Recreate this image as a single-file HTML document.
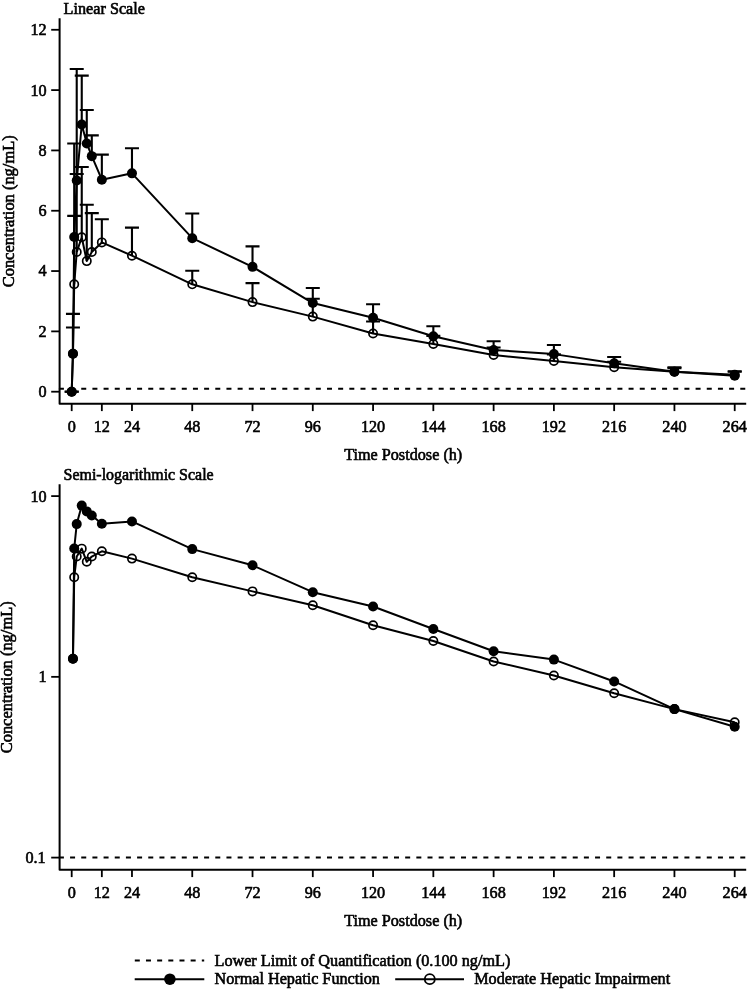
<!DOCTYPE html><html><head><meta charset="utf-8"><style>html,body{margin:0;padding:0;background:#fff;}svg{display:block;filter:grayscale(1);}text{font-family:"Liberation Serif",serif;fill:#000;stroke:#000;stroke-width:0.6px;}</style></head><body>
<svg width="749" height="991" viewBox="0 0 749 991">
<rect width="749" height="991" fill="#fff"/>
<text x="63.60" y="14.40" font-size="16.2">Linear Scale</text>
<path d="M59.60,18.30 L59.60,403.70 L746.20,403.70" fill="none" stroke="#000" stroke-width="2.0" stroke-linejoin="round"/>
<line x1="51.20" y1="391.70" x2="59.60" y2="391.70" stroke="#000" stroke-width="1.8"/>
<text x="46.70" y="397.10" font-size="16.2" text-anchor="end">0</text>
<line x1="51.20" y1="331.38" x2="59.60" y2="331.38" stroke="#000" stroke-width="1.8"/>
<text x="46.70" y="336.78" font-size="16.2" text-anchor="end">2</text>
<line x1="51.20" y1="271.06" x2="59.60" y2="271.06" stroke="#000" stroke-width="1.8"/>
<text x="46.70" y="276.46" font-size="16.2" text-anchor="end">4</text>
<line x1="51.20" y1="210.74" x2="59.60" y2="210.74" stroke="#000" stroke-width="1.8"/>
<text x="46.70" y="216.14" font-size="16.2" text-anchor="end">6</text>
<line x1="51.20" y1="150.42" x2="59.60" y2="150.42" stroke="#000" stroke-width="1.8"/>
<text x="46.70" y="155.82" font-size="16.2" text-anchor="end">8</text>
<line x1="51.20" y1="90.10" x2="59.60" y2="90.10" stroke="#000" stroke-width="1.8"/>
<text x="46.70" y="95.50" font-size="16.2" text-anchor="end">10</text>
<line x1="51.20" y1="29.78" x2="59.60" y2="29.78" stroke="#000" stroke-width="1.8"/>
<text x="46.70" y="35.18" font-size="16.2" text-anchor="end">12</text>
<line x1="71.70" y1="403.70" x2="71.70" y2="411.10" stroke="#000" stroke-width="1.8"/>
<text x="71.70" y="432.00" font-size="16.2" text-anchor="middle">0</text>
<line x1="101.84" y1="403.70" x2="101.84" y2="411.10" stroke="#000" stroke-width="1.8"/>
<text x="101.84" y="432.00" font-size="16.2" text-anchor="middle">12</text>
<line x1="131.97" y1="403.70" x2="131.97" y2="411.10" stroke="#000" stroke-width="1.8"/>
<text x="131.97" y="432.00" font-size="16.2" text-anchor="middle">24</text>
<line x1="192.25" y1="403.70" x2="192.25" y2="411.10" stroke="#000" stroke-width="1.8"/>
<text x="192.25" y="432.00" font-size="16.2" text-anchor="middle">48</text>
<line x1="252.52" y1="403.70" x2="252.52" y2="411.10" stroke="#000" stroke-width="1.8"/>
<text x="252.52" y="432.00" font-size="16.2" text-anchor="middle">72</text>
<line x1="312.79" y1="403.70" x2="312.79" y2="411.10" stroke="#000" stroke-width="1.8"/>
<text x="312.79" y="432.00" font-size="16.2" text-anchor="middle">96</text>
<line x1="373.07" y1="403.70" x2="373.07" y2="411.10" stroke="#000" stroke-width="1.8"/>
<text x="373.07" y="432.00" font-size="16.2" text-anchor="middle">120</text>
<line x1="433.34" y1="403.70" x2="433.34" y2="411.10" stroke="#000" stroke-width="1.8"/>
<text x="433.34" y="432.00" font-size="16.2" text-anchor="middle">144</text>
<line x1="493.62" y1="403.70" x2="493.62" y2="411.10" stroke="#000" stroke-width="1.8"/>
<text x="493.62" y="432.00" font-size="16.2" text-anchor="middle">168</text>
<line x1="553.89" y1="403.70" x2="553.89" y2="411.10" stroke="#000" stroke-width="1.8"/>
<text x="553.89" y="432.00" font-size="16.2" text-anchor="middle">192</text>
<line x1="614.16" y1="403.70" x2="614.16" y2="411.10" stroke="#000" stroke-width="1.8"/>
<text x="614.16" y="432.00" font-size="16.2" text-anchor="middle">216</text>
<line x1="674.44" y1="403.70" x2="674.44" y2="411.10" stroke="#000" stroke-width="1.8"/>
<text x="674.44" y="432.00" font-size="16.2" text-anchor="middle">240</text>
<line x1="734.71" y1="403.70" x2="734.71" y2="411.10" stroke="#000" stroke-width="1.8"/>
<text x="734.71" y="432.00" font-size="16.2" text-anchor="middle">264</text>
<text x="403.20" y="459.70" font-size="16.2" text-anchor="middle">Time Postdose (h)</text>
<text x="0" y="0" font-size="16.45" text-anchor="middle" transform="translate(14.0,211.30) rotate(-90)">Concentration (ng/mL)</text>
<line x1="58.9" y1="388.68" x2="746.20" y2="388.68" stroke="#000" stroke-width="2.0" stroke-dasharray="5.0 6.17"/>
<path d="M71.70,391.70 L71.70,391.70 M64.70,391.70 L78.70,391.70" stroke="#000" stroke-width="2.1" fill="none"/>
<path d="M72.96,353.70 L72.96,327.46 M65.96,327.46 L79.96,327.46" stroke="#000" stroke-width="2.1" fill="none"/>
<path d="M74.21,284.33 L74.21,215.87 M67.21,215.87 L81.21,215.87" stroke="#000" stroke-width="2.1" fill="none"/>
<path d="M76.72,252.06 L76.72,173.94 M69.72,173.94 L83.72,173.94" stroke="#000" stroke-width="2.1" fill="none"/>
<path d="M81.75,237.28 L81.75,167.01 M74.75,167.01 L88.75,167.01" stroke="#000" stroke-width="2.1" fill="none"/>
<path d="M86.77,261.11 L86.77,204.71 M79.77,204.71 L93.77,204.71" stroke="#000" stroke-width="2.1" fill="none"/>
<path d="M91.79,252.06 L91.79,213.15 M84.79,213.15 L98.79,213.15" stroke="#000" stroke-width="2.1" fill="none"/>
<path d="M101.84,242.41 L101.84,219.18 M94.84,219.18 L108.84,219.18" stroke="#000" stroke-width="2.1" fill="none"/>
<path d="M131.97,255.68 L131.97,227.63 M124.97,227.63 L138.97,227.63" stroke="#000" stroke-width="2.1" fill="none"/>
<path d="M192.25,284.33 L192.25,270.76 M185.25,270.76 L199.25,270.76" stroke="#000" stroke-width="2.1" fill="none"/>
<path d="M252.52,302.12 L252.52,283.12 M245.52,283.12 L259.52,283.12" stroke="#000" stroke-width="2.1" fill="none"/>
<path d="M312.79,316.60 L312.79,298.81 M305.79,298.81 L319.79,298.81" stroke="#000" stroke-width="2.1" fill="none"/>
<path d="M373.07,333.49 L373.07,321.43 M366.07,321.43 L380.07,321.43" stroke="#000" stroke-width="2.1" fill="none"/>
<path d="M433.34,344.05 L433.34,335.90 M426.34,335.90 L440.34,335.90" stroke="#000" stroke-width="2.1" fill="none"/>
<path d="M493.62,355.03 L493.62,347.49 M486.62,347.49 L500.62,347.49" stroke="#000" stroke-width="2.1" fill="none"/>
<path d="M553.89,361.03 L553.89,354.39 M546.89,354.39 L560.89,354.39" stroke="#000" stroke-width="2.1" fill="none"/>
<path d="M614.16,367.21 L614.16,361.78 M607.16,361.78 L621.16,361.78" stroke="#000" stroke-width="2.1" fill="none"/>
<path d="M674.44,371.70 L674.44,368.08 M667.44,368.08 L681.44,368.08" stroke="#000" stroke-width="2.1" fill="none"/>
<path d="M734.71,374.78 L734.71,371.76 M727.71,371.76 L741.71,371.76" stroke="#000" stroke-width="2.1" fill="none"/>
<path d="M71.70,391.70 L72.96,353.70 L74.21,284.33 L76.72,252.06 L81.75,237.28 L86.77,261.11 L91.79,252.06 L101.84,242.41 L131.97,255.68 L192.25,284.33 L252.52,302.12 L312.79,316.60 L373.07,333.49 L433.34,344.05 L493.62,355.03 L553.89,361.03 L614.16,367.21 L674.44,371.70 L734.71,374.78" fill="none" stroke="#000" stroke-width="2.0" stroke-linejoin="round"/>
<circle cx="71.70" cy="391.70" r="4.15" fill="none" stroke="#000" stroke-width="1.7"/>
<circle cx="72.96" cy="353.70" r="4.15" fill="none" stroke="#000" stroke-width="1.7"/>
<circle cx="74.21" cy="284.33" r="4.15" fill="none" stroke="#000" stroke-width="1.7"/>
<circle cx="76.72" cy="252.06" r="4.15" fill="none" stroke="#000" stroke-width="1.7"/>
<circle cx="81.75" cy="237.28" r="4.15" fill="none" stroke="#000" stroke-width="1.7"/>
<circle cx="86.77" cy="261.11" r="4.15" fill="none" stroke="#000" stroke-width="1.7"/>
<circle cx="91.79" cy="252.06" r="4.15" fill="none" stroke="#000" stroke-width="1.7"/>
<circle cx="101.84" cy="242.41" r="4.15" fill="none" stroke="#000" stroke-width="1.7"/>
<circle cx="131.97" cy="255.68" r="4.15" fill="none" stroke="#000" stroke-width="1.7"/>
<circle cx="192.25" cy="284.33" r="4.15" fill="none" stroke="#000" stroke-width="1.7"/>
<circle cx="252.52" cy="302.12" r="4.15" fill="none" stroke="#000" stroke-width="1.7"/>
<circle cx="312.79" cy="316.60" r="4.15" fill="none" stroke="#000" stroke-width="1.7"/>
<circle cx="373.07" cy="333.49" r="4.15" fill="none" stroke="#000" stroke-width="1.7"/>
<circle cx="433.34" cy="344.05" r="4.15" fill="none" stroke="#000" stroke-width="1.7"/>
<circle cx="493.62" cy="355.03" r="4.15" fill="none" stroke="#000" stroke-width="1.7"/>
<circle cx="553.89" cy="361.03" r="4.15" fill="none" stroke="#000" stroke-width="1.7"/>
<circle cx="614.16" cy="367.21" r="4.15" fill="none" stroke="#000" stroke-width="1.7"/>
<circle cx="674.44" cy="371.70" r="4.15" fill="none" stroke="#000" stroke-width="1.7"/>
<circle cx="734.71" cy="374.78" r="4.15" fill="none" stroke="#000" stroke-width="1.7"/>
<path d="M71.70,391.70 L71.70,391.70 M64.70,391.70 L78.70,391.70" stroke="#000" stroke-width="2.1" fill="none"/>
<path d="M72.96,353.70 L72.96,313.89 M65.96,313.89 L79.96,313.89" stroke="#000" stroke-width="2.1" fill="none"/>
<path d="M74.21,236.98 L74.21,143.48 M67.21,143.48 L81.21,143.48" stroke="#000" stroke-width="2.1" fill="none"/>
<path d="M76.72,180.58 L76.72,68.99 M69.72,68.99 L83.72,68.99" stroke="#000" stroke-width="2.1" fill="none"/>
<path d="M81.75,124.48 L81.75,75.62 M74.75,75.62 L88.75,75.62" stroke="#000" stroke-width="2.1" fill="none"/>
<path d="M86.77,143.48 L86.77,110.01 M79.77,110.01 L93.77,110.01" stroke="#000" stroke-width="2.1" fill="none"/>
<path d="M91.79,156.15 L91.79,135.34 M84.79,135.34 L98.79,135.34" stroke="#000" stroke-width="2.1" fill="none"/>
<path d="M101.84,179.68 L101.84,154.64 M94.84,154.64 L108.84,154.64" stroke="#000" stroke-width="2.1" fill="none"/>
<path d="M131.97,173.34 L131.97,148.31 M124.97,148.31 L138.97,148.31" stroke="#000" stroke-width="2.1" fill="none"/>
<path d="M192.25,238.19 L192.25,213.45 M185.25,213.45 L199.25,213.45" stroke="#000" stroke-width="2.1" fill="none"/>
<path d="M252.52,266.84 L252.52,246.33 M245.52,246.33 L259.52,246.33" stroke="#000" stroke-width="2.1" fill="none"/>
<path d="M312.79,303.03 L312.79,287.95 M305.79,287.95 L319.79,287.95" stroke="#000" stroke-width="2.1" fill="none"/>
<path d="M373.07,317.81 L373.07,304.24 M366.07,304.24 L380.07,304.24" stroke="#000" stroke-width="2.1" fill="none"/>
<path d="M433.34,336.21 L433.34,326.25 M426.34,326.25 L440.34,326.25" stroke="#000" stroke-width="2.1" fill="none"/>
<path d="M493.62,349.93 L493.62,341.18 M486.62,341.18 L500.62,341.18" stroke="#000" stroke-width="2.1" fill="none"/>
<path d="M553.89,354.12 L553.89,345.07 M546.89,345.07 L560.89,345.07" stroke="#000" stroke-width="2.1" fill="none"/>
<path d="M614.16,363.26 L614.16,356.93 M607.16,356.93 L621.16,356.93" stroke="#000" stroke-width="2.1" fill="none"/>
<path d="M674.44,371.70 L674.44,367.18 M667.44,367.18 L681.44,367.18" stroke="#000" stroke-width="2.1" fill="none"/>
<path d="M734.71,375.72 L734.71,371.19 M727.71,371.19 L741.71,371.19" stroke="#000" stroke-width="2.1" fill="none"/>
<path d="M71.70,391.70 L72.96,353.70 L74.21,236.98 L76.72,180.58 L81.75,124.48 L86.77,143.48 L91.79,156.15 L101.84,179.68 L131.97,173.34 L192.25,238.19 L252.52,266.84 L312.79,303.03 L373.07,317.81 L433.34,336.21 L493.62,349.93 L553.89,354.12 L614.16,363.26 L674.44,371.70 L734.71,375.72" fill="none" stroke="#000" stroke-width="2.0" stroke-linejoin="round"/>
<circle cx="71.70" cy="391.70" r="5.0" fill="#000"/>
<circle cx="72.96" cy="353.70" r="5.0" fill="#000"/>
<circle cx="74.21" cy="236.98" r="5.0" fill="#000"/>
<circle cx="76.72" cy="180.58" r="5.0" fill="#000"/>
<circle cx="81.75" cy="124.48" r="5.0" fill="#000"/>
<circle cx="86.77" cy="143.48" r="5.0" fill="#000"/>
<circle cx="91.79" cy="156.15" r="5.0" fill="#000"/>
<circle cx="101.84" cy="179.68" r="5.0" fill="#000"/>
<circle cx="131.97" cy="173.34" r="5.0" fill="#000"/>
<circle cx="192.25" cy="238.19" r="5.0" fill="#000"/>
<circle cx="252.52" cy="266.84" r="5.0" fill="#000"/>
<circle cx="312.79" cy="303.03" r="5.0" fill="#000"/>
<circle cx="373.07" cy="317.81" r="5.0" fill="#000"/>
<circle cx="433.34" cy="336.21" r="5.0" fill="#000"/>
<circle cx="493.62" cy="349.93" r="5.0" fill="#000"/>
<circle cx="553.89" cy="354.12" r="5.0" fill="#000"/>
<circle cx="614.16" cy="363.26" r="5.0" fill="#000"/>
<circle cx="674.44" cy="371.70" r="5.0" fill="#000"/>
<circle cx="734.71" cy="375.72" r="5.0" fill="#000"/>
<text x="63.60" y="480.40" font-size="15.95">Semi-logarithmic Scale</text>
<path d="M59.60,484.30 L59.60,869.70 L746.20,869.70" fill="none" stroke="#000" stroke-width="2.0" stroke-linejoin="round"/>
<line x1="51.20" y1="857.60" x2="59.60" y2="857.60" stroke="#000" stroke-width="1.8"/>
<text x="45.70" y="863.00" font-size="16.2" text-anchor="end">0.1</text>
<line x1="51.20" y1="676.85" x2="59.60" y2="676.85" stroke="#000" stroke-width="1.8"/>
<text x="46.70" y="682.25" font-size="16.2" text-anchor="end">1</text>
<line x1="51.20" y1="496.10" x2="59.60" y2="496.10" stroke="#000" stroke-width="1.8"/>
<text x="46.70" y="501.50" font-size="16.2" text-anchor="end">10</text>
<line x1="71.70" y1="869.70" x2="71.70" y2="877.10" stroke="#000" stroke-width="1.8"/>
<text x="71.70" y="898.00" font-size="16.2" text-anchor="middle">0</text>
<line x1="101.84" y1="869.70" x2="101.84" y2="877.10" stroke="#000" stroke-width="1.8"/>
<text x="101.84" y="898.00" font-size="16.2" text-anchor="middle">12</text>
<line x1="131.97" y1="869.70" x2="131.97" y2="877.10" stroke="#000" stroke-width="1.8"/>
<text x="131.97" y="898.00" font-size="16.2" text-anchor="middle">24</text>
<line x1="192.25" y1="869.70" x2="192.25" y2="877.10" stroke="#000" stroke-width="1.8"/>
<text x="192.25" y="898.00" font-size="16.2" text-anchor="middle">48</text>
<line x1="252.52" y1="869.70" x2="252.52" y2="877.10" stroke="#000" stroke-width="1.8"/>
<text x="252.52" y="898.00" font-size="16.2" text-anchor="middle">72</text>
<line x1="312.79" y1="869.70" x2="312.79" y2="877.10" stroke="#000" stroke-width="1.8"/>
<text x="312.79" y="898.00" font-size="16.2" text-anchor="middle">96</text>
<line x1="373.07" y1="869.70" x2="373.07" y2="877.10" stroke="#000" stroke-width="1.8"/>
<text x="373.07" y="898.00" font-size="16.2" text-anchor="middle">120</text>
<line x1="433.34" y1="869.70" x2="433.34" y2="877.10" stroke="#000" stroke-width="1.8"/>
<text x="433.34" y="898.00" font-size="16.2" text-anchor="middle">144</text>
<line x1="493.62" y1="869.70" x2="493.62" y2="877.10" stroke="#000" stroke-width="1.8"/>
<text x="493.62" y="898.00" font-size="16.2" text-anchor="middle">168</text>
<line x1="553.89" y1="869.70" x2="553.89" y2="877.10" stroke="#000" stroke-width="1.8"/>
<text x="553.89" y="898.00" font-size="16.2" text-anchor="middle">192</text>
<line x1="614.16" y1="869.70" x2="614.16" y2="877.10" stroke="#000" stroke-width="1.8"/>
<text x="614.16" y="898.00" font-size="16.2" text-anchor="middle">216</text>
<line x1="674.44" y1="869.70" x2="674.44" y2="877.10" stroke="#000" stroke-width="1.8"/>
<text x="674.44" y="898.00" font-size="16.2" text-anchor="middle">240</text>
<line x1="734.71" y1="869.70" x2="734.71" y2="877.10" stroke="#000" stroke-width="1.8"/>
<text x="734.71" y="898.00" font-size="16.2" text-anchor="middle">264</text>
<text x="403.20" y="925.70" font-size="16.2" text-anchor="middle">Time Postdose (h)</text>
<text x="0" y="0" font-size="16.45" text-anchor="middle" transform="translate(12.4,677.30) rotate(-90)">Concentration (ng/mL)</text>
<line x1="58.9" y1="857.60" x2="746.20" y2="857.60" stroke="#000" stroke-width="2.0" stroke-dasharray="5.0 6.17"/>
<path d="M72.96,658.71 L74.21,577.18 L76.72,556.55 L81.75,548.65 L86.77,561.80 L91.79,556.55 L101.84,551.30 L131.97,558.61 L192.25,577.18 L252.52,591.40 L312.79,605.24 L373.07,625.24 L433.34,640.94 L493.62,661.50 L553.89,675.53 L614.16,693.20 L674.44,709.11 L734.71,722.22" fill="none" stroke="#000" stroke-width="2.0" stroke-linejoin="round"/>
<circle cx="72.96" cy="658.71" r="4.15" fill="none" stroke="#000" stroke-width="1.7"/>
<circle cx="74.21" cy="577.18" r="4.15" fill="none" stroke="#000" stroke-width="1.7"/>
<circle cx="76.72" cy="556.55" r="4.15" fill="none" stroke="#000" stroke-width="1.7"/>
<circle cx="81.75" cy="548.65" r="4.15" fill="none" stroke="#000" stroke-width="1.7"/>
<circle cx="86.77" cy="561.80" r="4.15" fill="none" stroke="#000" stroke-width="1.7"/>
<circle cx="91.79" cy="556.55" r="4.15" fill="none" stroke="#000" stroke-width="1.7"/>
<circle cx="101.84" cy="551.30" r="4.15" fill="none" stroke="#000" stroke-width="1.7"/>
<circle cx="131.97" cy="558.61" r="4.15" fill="none" stroke="#000" stroke-width="1.7"/>
<circle cx="192.25" cy="577.18" r="4.15" fill="none" stroke="#000" stroke-width="1.7"/>
<circle cx="252.52" cy="591.40" r="4.15" fill="none" stroke="#000" stroke-width="1.7"/>
<circle cx="312.79" cy="605.24" r="4.15" fill="none" stroke="#000" stroke-width="1.7"/>
<circle cx="373.07" cy="625.24" r="4.15" fill="none" stroke="#000" stroke-width="1.7"/>
<circle cx="433.34" cy="640.94" r="4.15" fill="none" stroke="#000" stroke-width="1.7"/>
<circle cx="493.62" cy="661.50" r="4.15" fill="none" stroke="#000" stroke-width="1.7"/>
<circle cx="553.89" cy="675.53" r="4.15" fill="none" stroke="#000" stroke-width="1.7"/>
<circle cx="614.16" cy="693.20" r="4.15" fill="none" stroke="#000" stroke-width="1.7"/>
<circle cx="674.44" cy="709.11" r="4.15" fill="none" stroke="#000" stroke-width="1.7"/>
<circle cx="734.71" cy="722.22" r="4.15" fill="none" stroke="#000" stroke-width="1.7"/>
<path d="M72.96,658.71 L74.21,548.50 L76.72,524.10 L81.75,505.60 L86.77,511.39 L91.79,515.50 L101.84,523.76 L131.97,521.45 L192.25,549.11 L252.52,565.33 L312.79,592.20 L373.07,606.51 L433.34,628.98 L493.62,651.28 L553.89,659.59 L614.16,681.46 L674.44,709.11 L734.71,726.69" fill="none" stroke="#000" stroke-width="2.0" stroke-linejoin="round"/>
<circle cx="72.96" cy="658.71" r="5.0" fill="#000"/>
<circle cx="74.21" cy="548.50" r="5.0" fill="#000"/>
<circle cx="76.72" cy="524.10" r="5.0" fill="#000"/>
<circle cx="81.75" cy="505.60" r="5.0" fill="#000"/>
<circle cx="86.77" cy="511.39" r="5.0" fill="#000"/>
<circle cx="91.79" cy="515.50" r="5.0" fill="#000"/>
<circle cx="101.84" cy="523.76" r="5.0" fill="#000"/>
<circle cx="131.97" cy="521.45" r="5.0" fill="#000"/>
<circle cx="192.25" cy="549.11" r="5.0" fill="#000"/>
<circle cx="252.52" cy="565.33" r="5.0" fill="#000"/>
<circle cx="312.79" cy="592.20" r="5.0" fill="#000"/>
<circle cx="373.07" cy="606.51" r="5.0" fill="#000"/>
<circle cx="433.34" cy="628.98" r="5.0" fill="#000"/>
<circle cx="493.62" cy="651.28" r="5.0" fill="#000"/>
<circle cx="553.89" cy="659.59" r="5.0" fill="#000"/>
<circle cx="614.16" cy="681.46" r="5.0" fill="#000"/>
<circle cx="674.44" cy="709.11" r="5.0" fill="#000"/>
<circle cx="734.71" cy="726.69" r="5.0" fill="#000"/>
<line x1="134.8" y1="960.4" x2="204.2" y2="960.4" stroke="#000" stroke-width="2.0" stroke-dasharray="5.0 6.17"/>
<text x="214.5" y="965.7" font-size="16.2">Lower Limit of Quantification (0.100 ng/mL)</text>
<line x1="134.7" y1="979.2" x2="204.3" y2="979.2" stroke="#000" stroke-width="2.0"/>
<circle cx="169.9" cy="979.2" r="5.8" fill="#000"/>
<text x="214.5" y="984.1" font-size="16.2">Normal Hepatic Function</text>
<line x1="395.2" y1="979.2" x2="464" y2="979.2" stroke="#000" stroke-width="2.0"/>
<circle cx="429.8" cy="979.2" r="5.0" fill="none" stroke="#000" stroke-width="1.8"/>
<text x="474.2" y="984.1" font-size="16.2">Moderate Hepatic Impairment</text>
</svg></body></html>
